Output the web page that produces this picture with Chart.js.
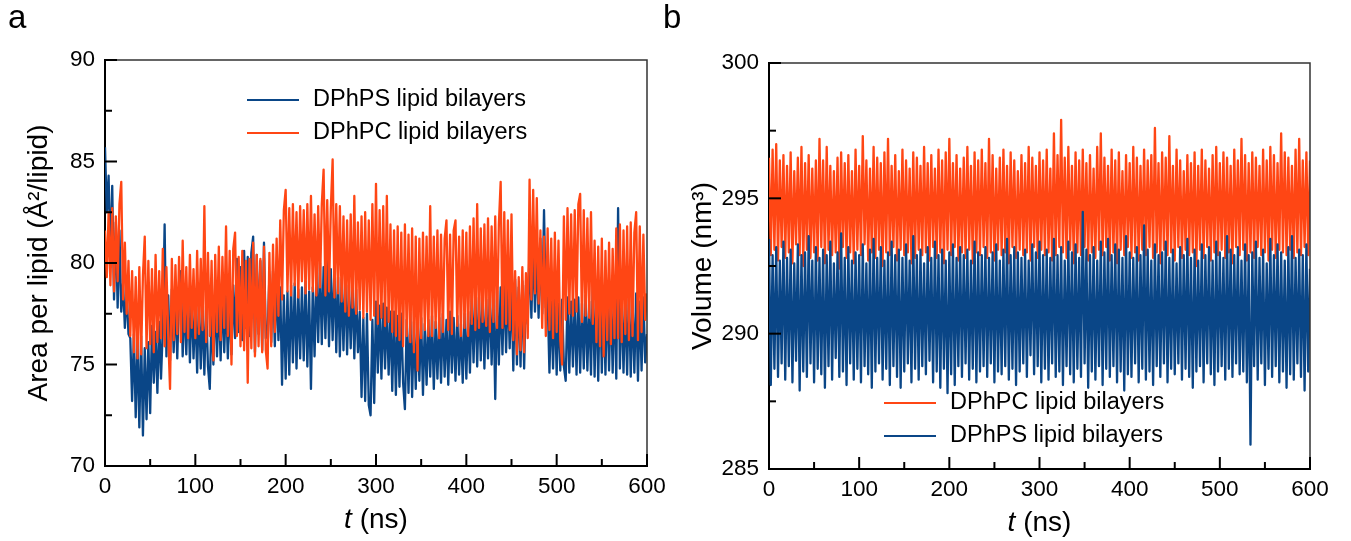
<!DOCTYPE html>
<html>
<head>
<meta charset="utf-8">
<script src="https://cdn.jsdelivr.net/npm/chart.js@4.4.1/dist/chart.umd.min.js"></script>
<style>
  body { margin: 0; background: #fff; width: 1351px; height: 541px; overflow: hidden; position: relative; }
  canvas { position: absolute; top: 0; }
  #ca { left: 0; }
  #cb { left: 660px; }
</style>
</head>
<body>
<canvas id="ca" width="690" height="541"></canvas>
<canvas id="cb" width="691" height="541"></canvas>
<script>
// sampling interval of the traces (ns)
const dt = 2;

// panel a: area per lipid (Å²/lipid)
const psArea = [
  85.7, 82.5, 84.3, 80.1, 83.8, 78.2, 82.0, 77.8, 81.6, 77.6,
  79.0, 76.8, 78.6, 76.5, 76.3, 73.2, 76.5, 72.4, 76.2, 71.9,
  76.4, 71.5, 75.8, 72.3, 76.1, 72.6, 76.9, 74.1, 76.6, 73.6,
  77.1, 74.3, 76.8, 81.9, 75.4, 78.4, 75.2, 78.7, 75.6, 78.2,
  75.3, 78.5, 79.6, 75.4, 78.3, 75.5, 78.6, 75.1, 78.4, 75.3,
  77.9, 74.6, 78.2, 74.8, 77.8, 74.5, 78.0, 74.9, 73.8, 77.6,
  75.0, 78.5, 75.4, 78.3, 75.2, 78.6, 75.6, 78.4, 75.3, 78.1,
  75.5, 78.9, 76.3, 80.2, 76.6, 79.8, 76.2, 80.6, 76.8, 80.3,
  76.4, 80.5, 81.3, 75.6, 80.4, 76.5, 80.1, 75.7, 81.0, 76.3,
  76.5, 79.4, 76.1, 79.6, 75.9, 79.2, 76.2, 78.8, 74.0, 78.4,
  74.3, 78.6, 74.5, 78.9, 75.1, 79.0, 74.8, 78.7, 75.3, 78.8,
  75.2, 79.1, 74.9, 78.6, 73.8, 78.8, 75.4, 79.5, 76.1, 80.0,
  76.0, 79.8, 76.3, 80.1, 75.9, 79.7, 76.2, 79.9, 75.6, 79.3,
  75.4, 79.2, 75.7, 79.4, 75.5, 78.9, 75.8, 79.1, 75.3, 78.7,
  75.6, 77.6, 73.4, 77.3, 73.2, 77.5, 73.0, 72.5, 77.2, 73.1,
  78.1, 74.6, 77.9, 74.3, 78.0, 74.8, 77.8, 74.5, 77.6, 73.7,
  77.6, 73.5, 77.4, 73.9, 77.5, 74.1, 72.8, 77.2, 73.6, 77.6,
  73.4, 77.1, 73.8, 77.4, 74.2, 77.3, 73.5, 77.0, 74.0, 77.2,
  74.4, 77.4, 73.8, 77.1, 74.3, 77.3, 74.1, 77.5, 74.4, 77.2,
  74.0, 77.6, 74.6, 77.3, 74.2, 77.4, 74.5, 77.0, 74.1, 77.5,
  74.3, 77.6, 74.6, 78.4, 75.1, 78.6, 74.9, 78.3, 75.2, 78.5,
  74.8, 78.2, 75.3, 78.6, 75.0, 78.4, 73.3, 78.6, 75.0, 78.8,
  75.5, 79.2, 75.6, 78.9, 75.8, 79.0, 74.7, 79.2, 75.0, 78.8,
  74.9, 79.1, 74.8, 78.9, 77.0, 80.9, 77.3, 81.0, 77.6, 80.6,
  77.3, 81.2, 77.5, 82.6, 77.8, 78.3, 74.6, 78.1, 74.8, 78.3,
  74.5, 78.0, 74.7, 78.2, 74.9, 74.2, 78.3, 74.6, 78.1, 74.9,
  78.2, 74.5, 78.3, 74.6, 78.0, 74.8, 78.4, 74.7, 78.1, 74.5,
  79.0, 74.4, 78.8, 74.2, 79.1, 74.6, 78.7, 74.5, 78.9, 74.7,
  78.6, 74.6, 78.8, 74.3, 82.7, 74.8, 78.5, 74.6, 78.3, 74.5,
  78.6, 74.4, 78.2, 74.6, 78.5, 74.2, 78.1, 74.7, 78.3, 75.1,
  76.5
];
const pcArea = [
  81.6, 79.3, 82.5, 78.9, 82.7, 78.6, 82.3, 79.1, 82.9, 84.0,
  78.2, 81.0, 77.5, 80.1, 76.4, 79.6, 75.6, 79.3, 75.3, 79.8,
  75.5, 79.4, 81.3, 75.8, 80.1, 76.0, 79.7, 75.6, 80.4, 76.1,
  79.6, 76.3, 80.7, 75.9, 79.8, 76.4, 73.8, 80.2, 76.2, 79.9,
  76.5, 80.3, 76.1, 81.1, 76.6, 79.8, 76.3, 80.4, 76.8, 79.7,
  76.3, 80.6, 76.5, 80.2, 76.7, 82.8, 76.1, 80.5, 76.4, 80.1,
  75.2, 80.4, 76.6, 80.8, 76.2, 80.3, 76.8, 81.8, 76.4, 80.6,
  75.0, 80.7, 81.5, 76.4, 80.3, 75.9, 80.6, 75.7, 80.1, 74.1,
  80.2, 75.8, 81.0, 75.4, 80.4, 75.9, 80.2, 75.6, 80.8, 75.7,
  74.8, 80.5, 75.9, 80.9, 76.6, 81.2, 77.4, 82.1, 78.2, 82.6,
  83.6, 78.6, 82.7, 78.4, 82.9, 78.9, 82.5, 78.3, 82.8, 79.1,
  82.6, 78.5, 82.9, 78.7, 83.3, 78.6, 82.4, 78.4, 82.8, 78.8,
  82.9, 84.6, 78.4, 83.1, 78.6, 82.7, 85.1, 78.3, 82.9, 78.5,
  82.8, 78.1, 82.3, 77.6, 82.1, 77.4, 82.4, 77.8, 83.3, 77.5,
  82.0, 77.7, 82.3, 77.3, 82.5, 77.6, 82.1, 77.2, 82.9, 77.4,
  83.9, 77.0, 82.6, 77.3, 82.8, 76.9, 83.3, 77.1, 81.9, 76.6,
  81.6, 76.4, 81.8, 76.2, 81.5, 75.9, 81.9, 76.4, 81.4, 76.1,
  81.7, 75.6, 81.3, 74.7, 81.2, 76.3, 81.5, 76.7, 81.3, 76.4,
  82.8, 76.4, 81.3, 76.8, 81.6, 76.3, 81.4, 76.6, 81.2, 82.1,
  76.7, 81.4, 76.5, 81.6, 82.1, 76.9, 81.3, 76.4, 81.6, 76.8,
  81.5, 76.4, 81.8, 77.0, 82.2, 76.7, 82.9, 76.8, 81.7, 77.1,
  81.9, 76.9, 82.2, 76.6, 81.8, 77.1, 82.3, 76.8, 81.9, 84.0,
  76.8, 82.5, 77.0, 82.1, 76.7, 82.4, 76.2, 79.6, 75.5, 79.3,
  75.7, 79.8, 75.6, 79.5, 76.3, 84.1, 78.2, 83.6, 78.5, 83.2,
  78.0, 81.6, 76.8, 81.3, 76.4, 81.7, 76.7, 81.2, 76.3, 81.5,
  76.6, 81.1, 76.2, 75.0, 82.3, 77.2, 82.7, 77.5, 82.4, 77.4,
  82.6, 77.6, 82.9, 83.4, 77.1, 82.6, 77.4, 82.2, 77.3, 82.5,
  77.0, 81.1, 76.1, 80.8, 75.9, 81.2, 75.4, 80.6, 76.2, 81.0,
  76.0, 80.7, 76.3, 81.7, 76.3, 81.9, 76.1, 81.6, 76.5, 81.8,
  76.2, 82.0, 76.4, 81.5, 82.5, 76.2, 81.8, 76.6, 81.4, 77.2,
  78.5
];

// panel b: box volume (nm³)
const pcVol = [
  296.5, 292.9, 296.8, 293.1, 297.0, 292.7, 296.4, 293.2, 296.6, 292.8,
  296.2, 293.0, 296.7, 292.6, 296.0, 293.3, 296.5, 292.9, 296.9, 292.5,
  296.3, 293.1, 296.6, 292.8, 296.1, 293.0, 296.4, 292.7, 297.2, 293.2,
  296.4, 292.6, 296.9, 293.1, 296.2, 292.9, 296.0, 293.0, 296.5, 292.4,
  296.7, 293.2, 296.3, 292.8, 296.6, 293.0, 296.0, 292.6, 296.8, 293.1,
  296.2, 292.9, 297.3, 293.3, 296.4, 292.7, 296.1, 293.0, 296.9, 292.8,
  296.5, 293.1, 296.3, 292.5, 296.7, 293.0, 297.2, 292.9, 296.2, 293.2,
  296.6, 292.7, 296.0, 293.1, 296.8, 292.9, 296.4, 293.0, 296.1, 292.6,
  296.7, 292.8, 296.5, 293.1, 296.2, 292.9, 296.9, 293.0, 296.3, 292.7,
  296.6, 293.2, 296.1, 292.8, 296.8, 293.0, 296.4, 292.6, 296.7, 293.1,
  297.2, 292.9, 296.3, 293.2, 296.6, 292.7, 296.1, 293.0, 296.5, 292.8,
  296.9, 293.1, 296.2, 292.6, 296.7, 293.0, 296.4, 292.9, 296.8, 293.2,
  296.3, 292.8, 297.2, 293.0, 296.6, 292.7, 296.1, 293.1, 296.5, 292.9,
  296.8, 293.0, 296.2, 292.6, 296.7, 293.2, 296.4, 292.8, 296.0, 293.1,
  296.6, 292.9, 296.3, 293.0, 296.9, 292.7, 296.5, 293.2, 296.2, 292.8,
  296.7, 293.1, 296.4, 292.9, 296.8, 293.0, 296.1, 292.7, 297.4, 292.9,
  296.6, 293.2, 297.9, 293.0, 296.5, 292.8, 296.9, 293.1, 296.2, 292.6,
  296.7, 293.0, 296.4, 292.9, 296.8, 293.2, 296.3, 292.7, 296.6, 293.0,
  296.1, 292.8, 296.9, 293.1, 297.4, 292.9, 296.5, 293.2, 296.2, 292.7,
  296.8, 293.0, 296.4, 292.6, 296.7, 293.1, 296.0, 292.9, 296.6, 293.2,
  296.3, 292.8, 296.9, 293.0, 296.5, 292.7, 296.2, 293.1, 296.8, 292.9,
  296.4, 293.2, 296.6, 292.8, 297.6, 293.0, 296.3, 292.6, 296.7, 293.1,
  296.5, 292.9, 297.3, 293.0, 296.2, 292.7, 296.8, 293.2, 296.4, 292.8,
  296.0, 293.1, 296.6, 292.9, 296.3, 293.0, 296.7, 292.5, 296.2, 293.1,
  296.8, 292.8, 296.4, 293.2, 296.1, 292.7, 296.6, 293.0, 296.9, 292.9,
  296.3, 293.1, 296.7, 292.8, 296.5, 293.0, 296.2, 292.6, 296.8, 293.2,
  296.4, 292.9, 297.2, 293.1, 296.6, 292.7, 296.3, 293.0, 296.7, 292.8,
  296.5, 293.2, 296.2, 292.9, 296.8, 293.0, 296.4, 292.7, 296.9, 293.1,
  296.6, 292.8, 296.3, 293.1, 297.4, 293.0, 296.7, 292.9, 296.5, 293.1,
  296.2, 292.8, 296.8, 293.0, 297.2, 292.9, 296.4, 293.2, 296.7, 292.9,
  296.4
];
const psVol = [
  293.5, 288.1, 292.9, 288.7, 293.2, 288.4, 292.7, 288.9, 293.4, 288.3,
  292.8, 288.8, 293.1, 288.2, 292.6, 289.0, 293.3, 287.9, 292.9, 288.6,
  293.0, 288.4, 293.6, 288.9, 292.7, 288.2, 293.2, 288.7, 292.8, 288.5,
  293.1, 288.0, 292.9, 288.8, 293.4, 288.3, 292.6, 289.1, 293.0, 288.4,
  293.7, 288.6, 292.8, 288.1, 293.2, 288.9, 292.7, 288.3, 293.0, 288.7,
  292.9, 288.2, 293.3, 288.8, 292.6, 288.5, 293.1, 288.0, 293.5, 288.6,
  292.8, 288.9, 293.2, 288.3, 292.7, 288.7, 293.0, 288.1, 293.4, 288.8,
  292.9, 288.4, 293.1, 288.0, 292.8, 288.6, 293.3, 288.9, 292.7, 288.2,
  293.6, 288.7, 292.9, 288.3, 293.1, 288.8, 292.6, 288.5, 293.2, 289.0,
  292.8, 288.2, 293.4, 288.6, 292.9, 288.0, 293.1, 288.7, 292.7, 287.8,
  293.0, 288.5, 293.3, 288.1, 292.8, 288.8, 293.2, 288.4, 292.9, 288.9,
  293.1, 288.3, 292.7, 288.7, 293.4, 288.2, 293.0, 288.6, 292.9, 288.8,
  293.2, 288.4, 292.8, 288.9, 293.0, 288.2, 293.3, 288.6, 292.7, 288.5,
  293.1, 288.8, 293.5, 288.3, 292.9, 288.7, 293.2, 288.1, 293.0, 288.6,
  292.8, 288.9, 293.1, 288.4, 292.7, 289.2, 293.3, 288.5, 293.0, 288.8,
  293.4, 288.2, 292.9, 288.7, 293.1, 288.3, 292.8, 288.9, 293.5, 288.4,
  292.9, 288.6, 293.2, 288.1, 292.7, 288.8, 293.4, 288.5, 293.0, 288.2,
  293.3, 288.7, 292.8, 288.4, 294.5, 288.9, 293.1, 288.0, 292.9, 288.6,
  293.2, 288.3, 292.7, 288.8, 293.4, 288.1, 293.0, 288.7, 293.5, 288.4,
  292.9, 288.8, 293.3, 288.2, 293.1, 288.6, 292.8, 287.9, 293.6, 288.5,
  293.0, 288.4, 292.8, 288.9, 293.2, 288.2, 292.9, 288.7, 294.0, 288.3,
  293.1, 288.6, 292.7, 288.1, 293.3, 288.8, 292.9, 288.4, 293.0, 288.9,
  293.4, 288.2, 292.8, 288.7, 293.1, 288.5, 292.6, 288.9, 293.2, 288.3,
  292.9, 288.7, 293.5, 288.4, 292.8, 288.0, 293.1, 288.6, 292.7, 288.8,
  293.3, 288.2, 292.9, 288.9, 293.2, 288.5, 292.7, 288.1, 293.4, 288.6,
  293.0, 288.8, 292.8, 288.3, 293.6, 288.7, 293.1, 288.4, 292.9, 288.9,
  293.2, 288.5, 292.7, 288.6, 293.3, 288.2, 292.9, 285.9, 293.0, 288.8,
  293.4, 288.3, 292.8, 288.9, 293.1, 288.1, 292.6, 288.7, 293.5, 288.4,
  292.9, 288.8, 293.3, 288.2, 293.0, 288.6, 292.7, 288.0, 293.2, 288.5,
  293.6, 288.3, 292.8, 288.9, 293.1, 288.4, 292.9, 287.9, 293.3, 288.6,
  292.4
];

// tick labels
const xMajor = [0, 100, 200, 300, 400, 500, 600];
const yMajorA = [70, 75, 80, 85, 90];
const yMajorB = [285, 290, 295, 300];

const BLUE = '#0a4687';
const ORANGE = '#ff4614';
const FONT = '"Liberation Sans", Arial, Helvetica, sans-serif';

function pts(arr) {
  return arr.map((v, i) => ({ x: i * dt, y: v }));
}

// frame, inward ticks, titles, legend and panel letter
const decor = {
  id: 'decor',
  afterDraw(chart, args, o) {
    const { ctx, chartArea: a, scales: { x, y } } = chart;
    ctx.save();
    ctx.strokeStyle = '#333';
    ctx.lineWidth = 1.5;
    ctx.beginPath();
    ctx.moveTo(a.left, a.top);
    ctx.lineTo(a.right, a.top);
    ctx.lineTo(a.right, a.bottom);
    ctx.stroke();

    ctx.strokeStyle = '#000';
    ctx.lineWidth = 2;
    x.ticks.forEach(t => {
      const px = x.getPixelForValue(t.value);
      const len = xMajor.includes(t.value) ? 12 : 7;
      ctx.beginPath();
      ctx.moveTo(px, a.bottom);
      ctx.lineTo(px, a.bottom - len);
      ctx.stroke();
    });
    y.ticks.forEach(t => {
      const py = y.getPixelForValue(t.value);
      const len = o.yMajor.includes(t.value) ? 12 : 7;
      ctx.beginPath();
      ctx.moveTo(a.left, py);
      ctx.lineTo(a.left + len, py);
      ctx.stroke();
    });

    ctx.fillStyle = '#000';
    // y title
    ctx.save();
    ctx.translate(a.left - 66, (a.top + a.bottom) / 2);
    ctx.rotate(-Math.PI / 2);
    ctx.font = '28px ' + FONT;
    ctx.textAlign = 'center';
    ctx.textBaseline = 'middle';
    ctx.fillText(o.yTitle, 0, 0);
    ctx.restore();

    // x title: italic t + (ns)
    ctx.textBaseline = 'middle';
    ctx.textAlign = 'left';
    ctx.font = 'italic 28px ' + FONT;
    const w1 = ctx.measureText('t').width;
    ctx.font = '28px ' + FONT;
    const w2 = ctx.measureText(' (ns)').width;
    const sx = (a.left + a.right) / 2 - (w1 + w2) / 2;
    const ty = a.bottom + 54;
    ctx.font = 'italic 28px ' + FONT;
    ctx.fillText('t', sx, ty);
    ctx.font = '28px ' + FONT;
    ctx.fillText(' (ns)', sx + w1, ty);

    // legend
    ctx.font = '23.5px ' + FONT;
    o.legend.forEach((idx, k) => {
      const ds = chart.data.datasets[idx];
      const ly = o.legendY + k * o.legendGap;
      ctx.strokeStyle = ds.borderColor;
      ctx.lineWidth = 2;
      ctx.beginPath();
      ctx.moveTo(o.legendX, ly);
      ctx.lineTo(o.legendX + 52, ly);
      ctx.stroke();
      ctx.fillStyle = '#000';
      ctx.fillText(ds.label, o.legendX + 66, ly);
    });

    // panel letter
    ctx.font = '33px ' + FONT;
    ctx.textBaseline = 'alphabetic';
    ctx.fillText(o.tag, o.tagX, 28);
    ctx.restore();
  }
};

function lineSet(label, arr, color) {
  return {
    label: label,
    data: pts(arr),
    borderColor: color,
    borderWidth: 2.3,
    borderJoinStyle: 'round',
    pointRadius: 0,
    tension: 0,
    fill: false
  };
}

function makeChart(id, datasets, yMin, yMax, yMajor, pad, yWidth, xHeight, extra) {
  return new Chart(document.getElementById(id), {
    type: 'line',
    data: { datasets: datasets },
    options: {
      responsive: false,
      animation: false,
      devicePixelRatio: 1,
      layout: { padding: pad, autoPadding: false },
      plugins: {
        legend: { display: false },
        tooltip: { enabled: false },
        decor: Object.assign({ yMajor: yMajor }, extra)
      },
      scales: {
        x: {
          type: 'linear',
          min: 0,
          max: 600,
          grid: { display: false, drawTicks: false },
          border: { display: true, color: '#000', width: 2 },
          ticks: {
            stepSize: 50,
            autoSkip: false,
            maxRotation: 0,
            padding: 7,
            color: '#000',
            font: { family: FONT, size: 22.5 },
            callback: v => xMajor.includes(v) ? String(v) : ''
          },
          afterFit(s) { s.height = xHeight; }
        },
        y: {
          min: yMin,
          max: yMax,
          grid: { display: false, drawTicks: false },
          border: { display: true, color: '#000', width: 2 },
          ticks: {
            stepSize: 2.5,
            autoSkip: false,
            padding: 10,
            color: '#000',
            font: { family: FONT, size: 22.5 },
            callback: v => yMajor.includes(v) ? String(v) : ''
          },
          afterFit(s) { s.width = yWidth; }
        }
      }
    },
    plugins: [decor]
  });
}

// panel a: orange drawn over blue
makeChart('ca', [
  lineSet('DPhPC lipid bilayers', pcArea, ORANGE),
  lineSet('DPhPS lipid bilayers', psArea, BLUE)
], 70, 90, yMajorA, { top: 60, right: 43, left: 0, bottom: 0 }, 105, 75, {
  yTitle: 'Area per lipid (Å²/lipid)',
  legend: [1, 0], legendX: 247, legendY: 100, legendGap: 33,
  tag: 'a', tagX: 8
});

// panel b: blue drawn over orange
makeChart('cb', [
  lineSet('DPhPS lipid bilayers', psVol, BLUE),
  lineSet('DPhPC lipid bilayers', pcVol, ORANGE)
], 285, 300, yMajorB, { top: 63, right: 41, left: 0, bottom: 0 }, 109, 72, {
  yTitle: 'Volume (nm³)',
  legend: [1, 0], legendX: 224, legendY: 403, legendGap: 33,
  tag: 'b', tagX: 3
});
</script>
</body>
</html>
